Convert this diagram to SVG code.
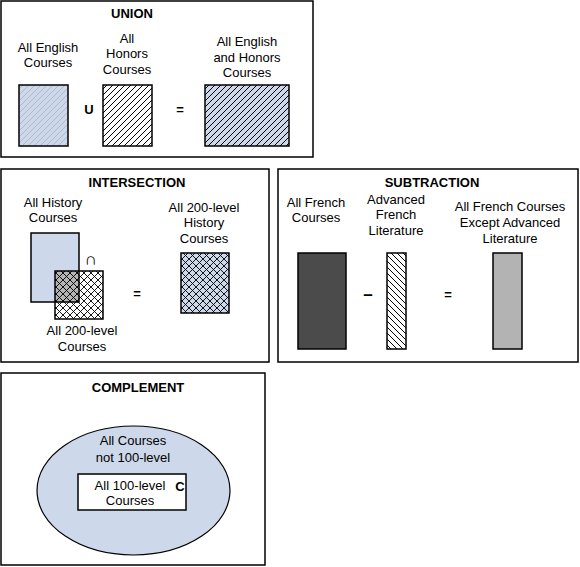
<svg xmlns="http://www.w3.org/2000/svg" width="580" height="567" viewBox="0 0 580 567">
<style>
text{font-family:"Liberation Sans",Arial,sans-serif;font-size:13px;fill:#000;text-anchor:middle}
.t{font-weight:bold}
.box{fill:#fff;stroke:#000;stroke-width:1.5}
.sh{stroke:#000;stroke-width:1.5}
.blue{fill:#cdd8ea}
</style>
<defs>
<pattern id="hatch" width="6" height="6" patternUnits="userSpaceOnUse">
<path d="M-1,1 l2,-2 M0,6 l6,-6 M5,7 l2,-2" stroke="#000" stroke-width="1"/>
</pattern>
<pattern id="hatchFaint" width="6" height="6" patternUnits="userSpaceOnUse">
<path d="M-1,1 l2,-2 M0,6 l6,-6 M5,7 l2,-2" stroke="#a9b0bf" stroke-width="0.8"/>
</pattern>
<pattern id="back" width="6" height="6" patternUnits="userSpaceOnUse">
<path d="M-1,5 l2,2 M0,0 l6,6 M5,-1 l2,2" stroke="#000" stroke-width="1"/>
</pattern>
<pattern id="cross" width="7" height="7" patternUnits="userSpaceOnUse">
<path d="M0,0 L7,7 M7,0 L0,7" stroke="#000" stroke-width="0.9"/>
</pattern>
</defs>

<g id="union">
<rect class="box" x="1" y="1" width="312" height="156"/>
<text class="t" x="132" y="18">UNION</text>
<text x="48" y="52">All English</text>
<text x="48" y="67">Courses</text>
<rect class="blue" x="19" y="85" width="49" height="61"/>
<rect fill="url(#hatchFaint)" x="19" y="85" width="49" height="61"/>
<rect fill="none" class="sh" x="19" y="85" width="49" height="61"/>
<text class="t" x="89" y="114">U</text>
<text x="127" y="43">All</text>
<text x="127" y="58">Honors</text>
<text x="127" y="74">Courses</text>
<rect fill="#fff" x="103" y="85" width="49" height="61"/>
<rect fill="url(#hatch)" class="sh" x="103" y="85" width="49" height="61"/>
<text class="t" x="180" y="114">=</text>
<text x="247" y="46">All English</text>
<text x="247" y="62">and Honors</text>
<text x="247" y="77">Courses</text>
<rect class="blue" x="205" y="85" width="84" height="61"/>
<rect fill="url(#hatch)" class="sh" x="205" y="85" width="84" height="61"/>
</g>

<g id="intersection">
<rect class="box" x="1" y="169" width="268" height="193"/>
<text class="t" x="137" y="187">INTERSECTION</text>
<text x="53" y="207">All History</text>
<text x="53" y="222">Courses</text>
<rect class="blue" x="31" y="233" width="48" height="69"/>
<rect fill="#fff" x="55" y="271" width="48" height="48"/>
<rect fill="url(#cross)" x="55" y="271" width="48" height="48"/>
<rect fill="#b4b4b4" x="55" y="271" width="24" height="31"/>
<rect fill="url(#cross)" x="55" y="271" width="24" height="31"/>
<rect fill="none" class="sh" x="31" y="233" width="48" height="69"/>
<rect fill="none" class="sh" x="55" y="271" width="48" height="48"/>
<text class="t" x="91" y="265" style="font-size:17px">∩</text>
<text class="t" x="137" y="298">=</text>
<text x="82" y="335">All 200-level</text>
<text x="82" y="351">Courses</text>
<text x="204" y="212">All 200-level</text>
<text x="204" y="227">History</text>
<text x="204" y="243">Courses</text>
<rect class="blue" x="181" y="253" width="48" height="60"/>
<rect fill="url(#cross)" class="sh" x="181" y="253" width="48" height="60"/>
</g>

<g id="subtraction">
<rect class="box" x="278" y="169" width="300" height="193"/>
<text class="t" x="432" y="187">SUBTRACTION</text>
<text x="316" y="207">All French</text>
<text x="316" y="222">Courses</text>
<rect fill="#4b4b4b" class="sh" x="298" y="253" width="48" height="96"/>
<text class="t" x="368" y="300" style="font-size:17px">–</text>
<text x="396" y="204">Advanced</text>
<text x="396" y="219">French</text>
<text x="396" y="235">Literature</text>
<rect fill="#fff" x="387" y="253" width="19" height="96"/>
<rect fill="url(#back)" class="sh" x="387" y="253" width="19" height="96"/>
<text class="t" x="448" y="299">=</text>
<text x="510" y="211">All French Courses</text>
<text x="510" y="227">Except Advanced</text>
<text x="510" y="243">Literature</text>
<rect fill="#b3b3b3" class="sh" x="493" y="253" width="29" height="96"/>
</g>

<g id="complement">
<rect class="box" x="1" y="373" width="264" height="192"/>
<text class="t" x="138" y="392">COMPLEMENT</text>
<ellipse class="blue" stroke="#000" stroke-width="1.2" cx="133.5" cy="490.5" rx="96.5" ry="64.5"/>
<text x="133" y="445">All Courses</text>
<text x="133" y="462">not 100-level</text>
<rect fill="#fff" class="sh" x="78" y="474" width="108" height="36"/>
<text x="130" y="490">All 100-level</text>
<text x="130" y="505">Courses</text>
<text class="t" x="180" y="491">C</text>
</g>

<g id="connectors"/>
</svg>
